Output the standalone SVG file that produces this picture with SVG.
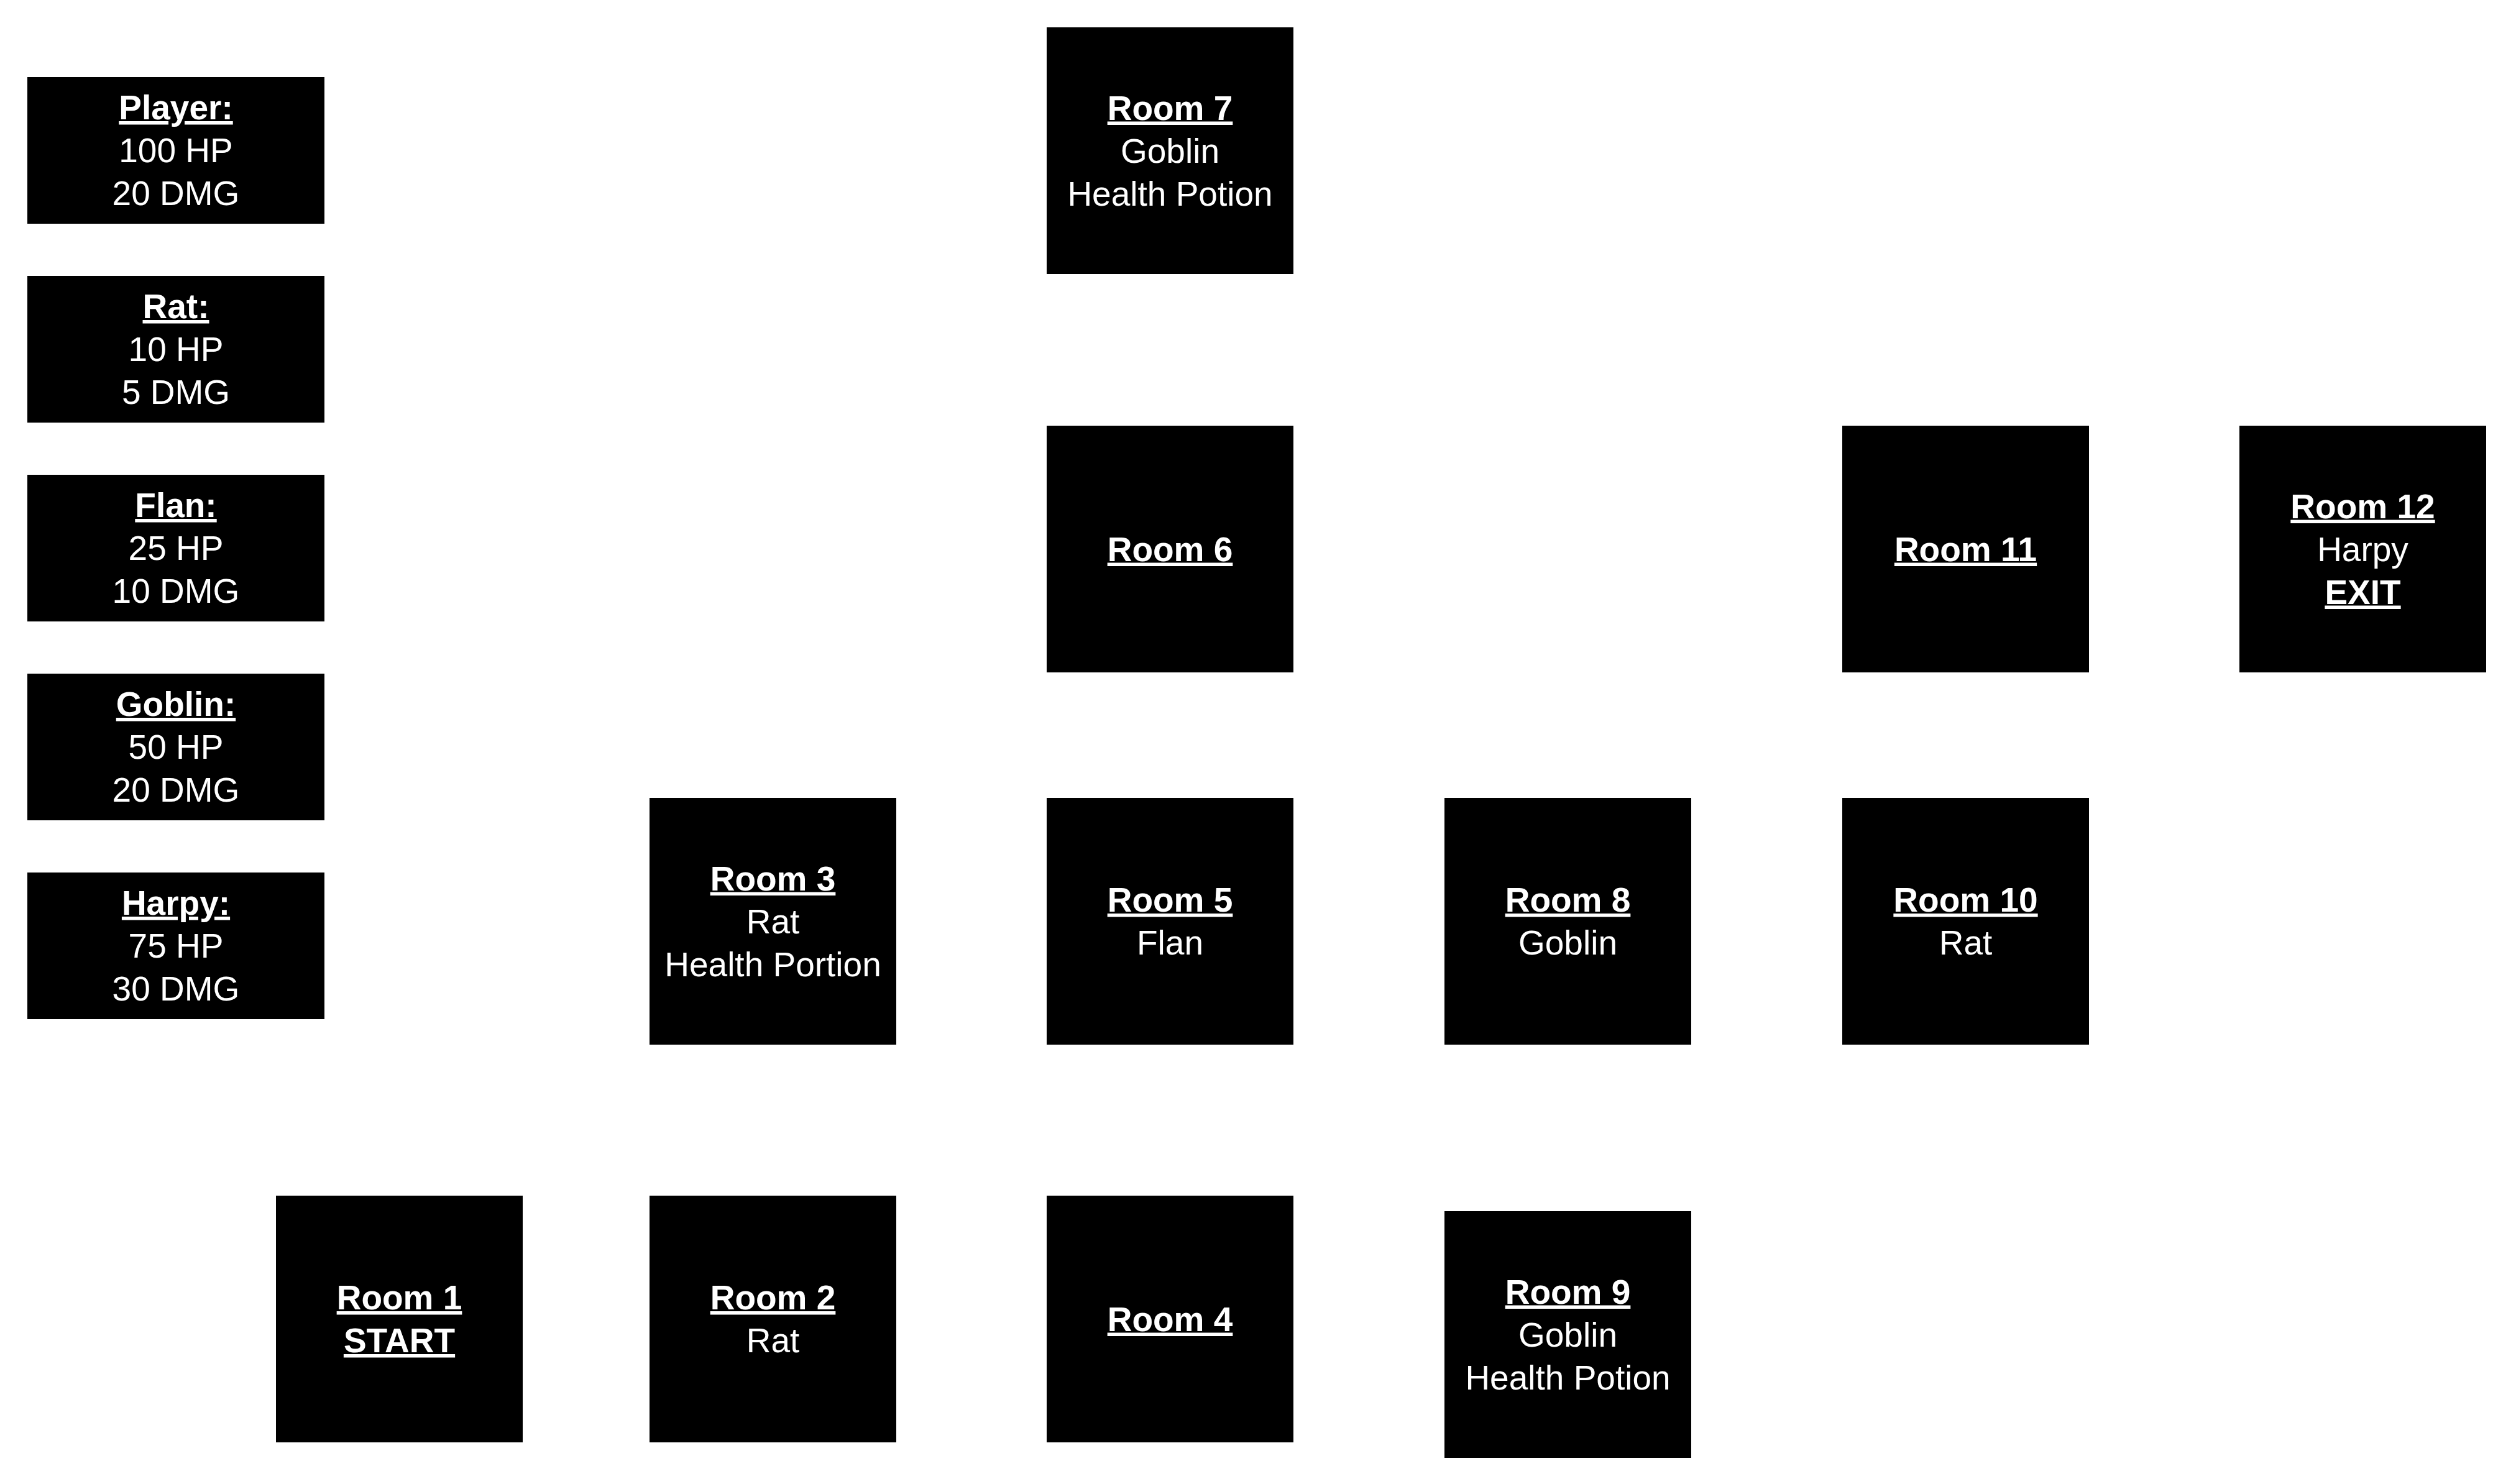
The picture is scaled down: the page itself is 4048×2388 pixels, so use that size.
<svg xmlns="http://www.w3.org/2000/svg" width="4048" height="2388" viewBox="0 0 4048 2388">
<style>
.box{fill:#000}
text{font-family:'Liberation Sans',Arial,sans-serif;font-size:55px;fill:#fff;text-anchor:middle}
.h{font-weight:bold;text-decoration:underline}
</style>
<rect width="4048" height="2388" fill="#fff"/>
<g id="connectors"></g>
<g font-family="'Liberation Sans', Arial, sans-serif">
<g id="legend-player"><rect class="box" x="44" y="124" width="478" height="236"/><text x="283" y="192" class="h">Player:</text><text x="283" y="261">100 HP</text><text x="283" y="330">20 DMG</text></g>
<g id="legend-rat"><rect class="box" x="44" y="444" width="478" height="236"/><text x="283" y="512" class="h">Rat:</text><text x="283" y="581">10 HP</text><text x="283" y="650">5 DMG</text></g>
<g id="legend-flan"><rect class="box" x="44" y="764" width="478" height="236"/><text x="283" y="832" class="h">Flan:</text><text x="283" y="901">25 HP</text><text x="283" y="970">10 DMG</text></g>
<g id="legend-goblin"><rect class="box" x="44" y="1084" width="478" height="236"/><text x="283" y="1152" class="h">Goblin:</text><text x="283" y="1221">50 HP</text><text x="283" y="1290">20 DMG</text></g>
<g id="legend-harpy"><rect class="box" x="44" y="1404" width="478" height="236"/><text x="283" y="1472" class="h">Harpy:</text><text x="283" y="1541">75 HP</text><text x="283" y="1610">30 DMG</text></g>
<g id="room7"><rect class="box" x="1684" y="44" width="397" height="397"/><text x="1882.5" y="192.5" class="h">Room 7</text><text x="1882.5" y="261.5">Goblin</text><text x="1882.5" y="330.5">Health Potion</text></g>
<g id="room6"><rect class="box" x="1684" y="685" width="397" height="397"/><text x="1882.5" y="902.5" class="h">Room 6</text></g>
<g id="room11"><rect class="box" x="2964" y="685" width="397" height="397"/><text x="3162.5" y="902.5" class="h">Room 11</text></g>
<g id="room12"><rect class="box" x="3603" y="685" width="397" height="397"/><text x="3801.5" y="833.5" class="h">Room 12</text><text x="3801.5" y="902.5">Harpy</text><text x="3801.5" y="971.5" class="h">EXIT</text></g>
<g id="room3"><rect class="box" x="1045" y="1284" width="397" height="397"/><text x="1243.5" y="1432.5" class="h">Room 3</text><text x="1243.5" y="1501.5">Rat</text><text x="1243.5" y="1570.5">Health Portion</text></g>
<g id="room5"><rect class="box" x="1684" y="1284" width="397" height="397"/><text x="1882.5" y="1467" class="h">Room 5</text><text x="1882.5" y="1536">Flan</text></g>
<g id="room8"><rect class="box" x="2324" y="1284" width="397" height="397"/><text x="2522.5" y="1467" class="h">Room 8</text><text x="2522.5" y="1536">Goblin</text></g>
<g id="room10"><rect class="box" x="2964" y="1284" width="397" height="397"/><text x="3162.5" y="1467" class="h">Room 10</text><text x="3162.5" y="1536">Rat</text></g>
<g id="room1"><rect class="box" x="444" y="1924" width="397" height="397"/><text x="642.5" y="2107" class="h">Room 1</text><text x="642.5" y="2176" class="h">START</text></g>
<g id="room2"><rect class="box" x="1045" y="1924" width="397" height="397"/><text x="1243.5" y="2107" class="h">Room 2</text><text x="1243.5" y="2176">Rat</text></g>
<g id="room4"><rect class="box" x="1684" y="1924" width="397" height="397"/><text x="1882.5" y="2141.5" class="h">Room 4</text></g>
<g id="room9"><rect class="box" x="2324" y="1949" width="397" height="397"/><text x="2522.5" y="2097.5" class="h">Room 9</text><text x="2522.5" y="2166.5">Goblin</text><text x="2522.5" y="2235.5">Health Potion</text></g>
</g>
</svg>
